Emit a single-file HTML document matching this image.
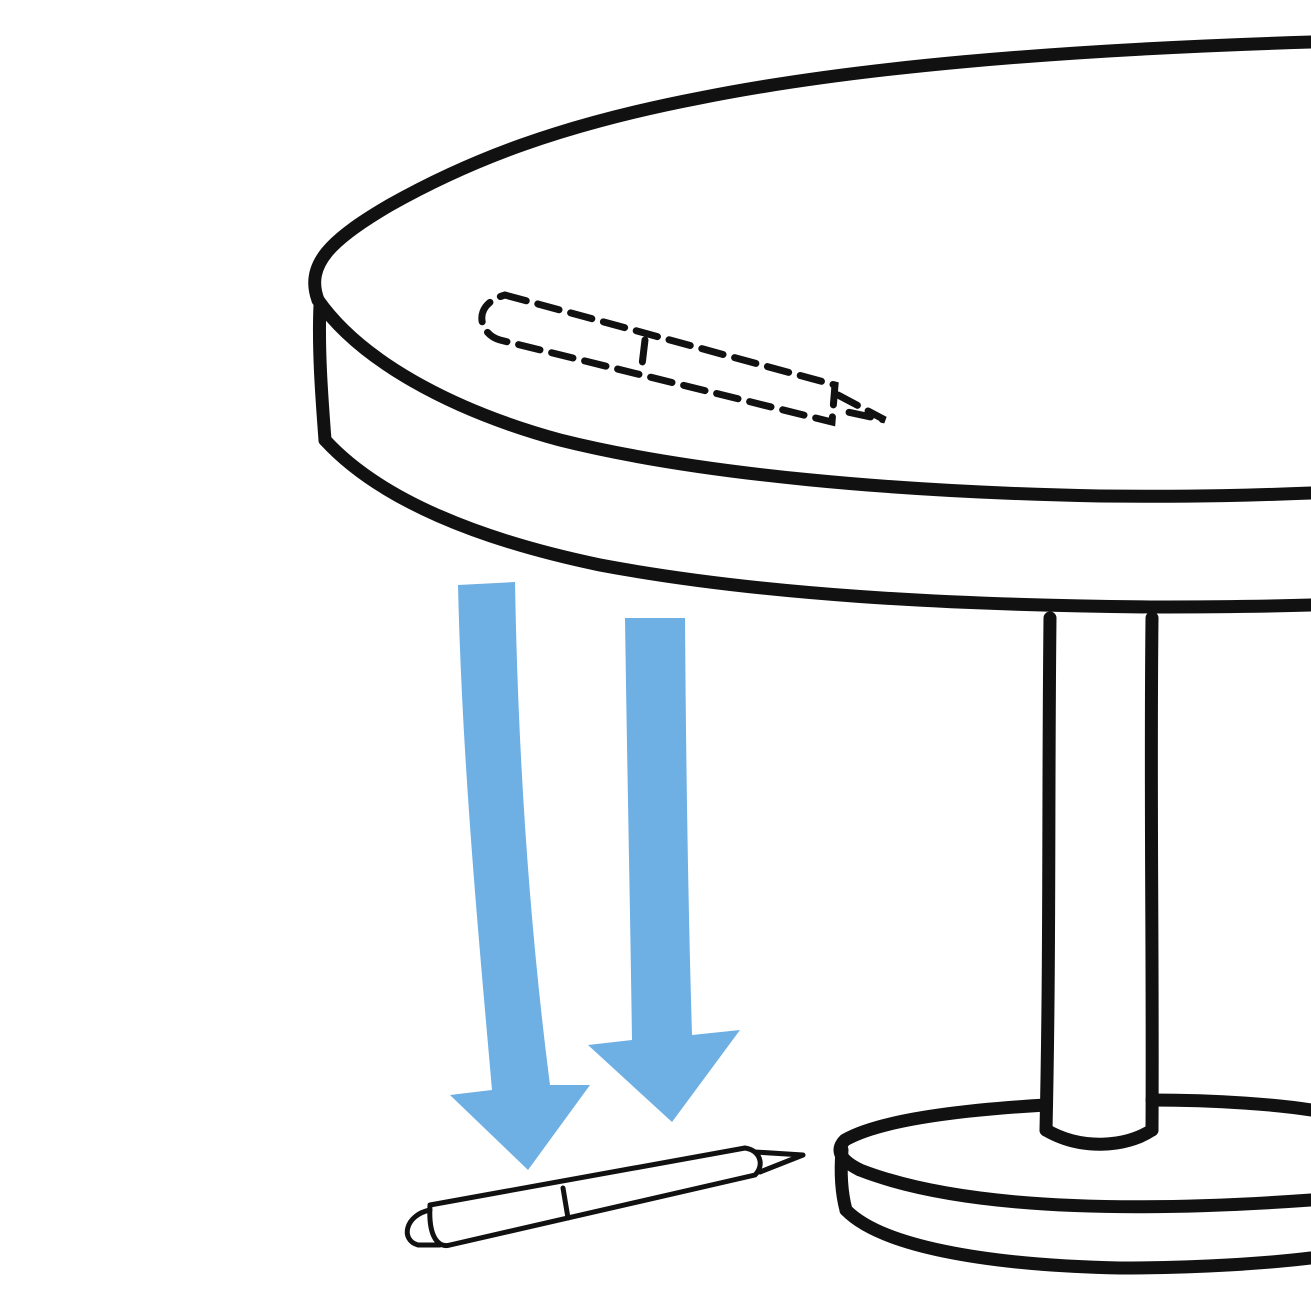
<!DOCTYPE html>
<html><head><meta charset="utf-8"><style>
html,body{margin:0;padding:0;background:#fff;width:1311px;height:1311px;overflow:hidden}
svg{display:block}
</style></head><body>
<svg width="1311" height="1311" viewBox="0 0 1311 1311">
<g fill="none" stroke="#111" stroke-width="13" stroke-linecap="round" stroke-linejoin="round">
  <path d="M318,300 C305,265 330,240 390,205 C470,160 560,125 700,98 C850,68 1050,50 1311,42"/>
  <path d="M318,300 C360,360 450,410 560,440 C700,475 900,492 1100,496 C1200,497 1260,495 1311,493"/>
  <path d="M320,305 C318,350 322,400 325,440"/>
  <path d="M325,440 C380,500 480,540 600,565 C760,595 950,605 1150,607 C1230,607 1280,606 1311,605"/>
  <path d="M1050,618 C1048,800 1050,950 1046,1130"/>
  <path d="M1152,618 C1150,800 1153,950 1152,1130"/>
  <path d="M1046,1130 C1080,1150 1125,1148 1152,1130"/>
  <path d="M1046,1105 C960,1110 880,1120 845,1140 C835,1150 840,1160 860,1170 C950,1205 1100,1215 1311,1200"/>
  <path d="M1152,1100 C1220,1100 1280,1105 1311,1110"/>
  <path d="M842,1150 C840,1175 842,1195 846,1210"/>
  <path d="M846,1210 C880,1245 980,1265 1120,1268 C1200,1268 1270,1263 1311,1258"/>
</g>
<g fill="none" stroke="#111" stroke-width="7" stroke-dasharray="22,12" stroke-linecap="round">
  <path d="M505,295 L835,385 L832,422 L500,340 C480,335 470,305 505,295 Z"/>
  <path d="M838,395 L885,420 L838,410"/>
  <path d="M645,340 L642,365"/>
</g>
<g fill="#6eafe4">
  <path d="M458,585 L515,582 C518,760 530,930 550,1085 L590,1085 L528,1170 L450,1095 L492,1090 C478,930 462,760 458,585 Z"/>
  <path d="M625,618 L685,618 C686,760 688,900 692,1035 L740,1030 L672,1122 L588,1045 L632,1040 C630,900 627,760 625,618 Z"/>
</g>
<g fill="none" stroke="#111" stroke-width="5" stroke-linejoin="round" stroke-linecap="round">
  <path d="M430,1205 L745,1148 C760,1150 765,1165 755,1175 L450,1245 C440,1248 428,1240 430,1205 Z"/>
  <path d="M430,1210 C405,1215 400,1240 418,1245 L440,1245"/>
  <path d="M755,1152 L803,1155 L760,1172"/>
  <path d="M563,1188 L568,1218"/>
</g>
</svg>
</body></html>
